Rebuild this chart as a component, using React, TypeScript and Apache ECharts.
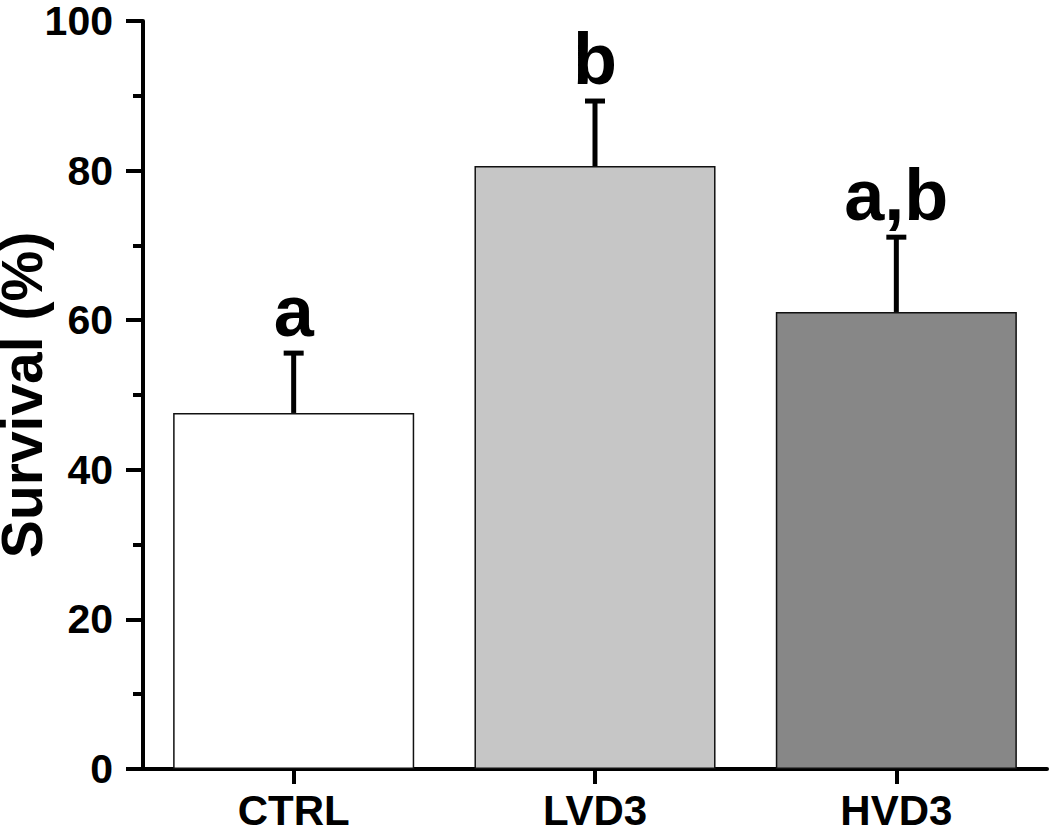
import React, { useEffect, useRef } from "react";
import * as echarts from "echarts";

const categories = ["CTRL", "LVD3", "HVD3"];
const survival = [47.6, 80.6, 61.1];
const errorPlus = [8.0, 8.7, 10.0];
const letters = ["a", "b", "a,b"];
const barColors = ["#ffffff", "#c6c6c6", "#878787"];
const yTicks = { min: 0, max: 100, interval: 20 };

const FONT = '"Liberation Sans", Arial, sans-serif';

export default function App() {
  const ref = useRef<HTMLDivElement>(null);
  useEffect(() => {
    if (!ref.current) return;
    const chart = echarts.init(ref.current, undefined, { renderer: "svg" });
    const errData = categories.map((c, i) => [i, survival[i], errorPlus[i], letters[i]]);
    chart.setOption({
      animation: false,
      backgroundColor: "#ffffff",
      grid: { left: 143, right: 3, top: 21, bottom: 63, containLabel: false, outerBoundsMode: "none" },
      xAxis: {
        type: "category",
        data: categories,
        axisLine: { show: true, lineStyle: { color: "#000", width: 4 } },
        axisTick: { show: true, alignWithLabel: true, length: 15, lineStyle: { color: "#000", width: 4 } },
        axisLabel: { color: "#000", fontFamily: FONT, fontWeight: "bold", fontSize: 42, margin: 20 },
        splitLine: { show: false },
      },
      yAxis: {
        type: "value",
        min: yTicks.min,
        max: yTicks.max,
        interval: yTicks.interval,
        name: "Survival (%)",
        nameLocation: "middle",
        nameGap: 99,
        nameMoveOverlap: false,
        nameTextStyle: { color: "#000", fontFamily: FONT, fontWeight: "bold", fontSize: 57, lineHeight: 44 },
        axisLine: { show: true, lineStyle: { color: "#000", width: 4 } },
        axisTick: { show: true, length: 17, lineStyle: { color: "#000", width: 4 } },
        minorTick: { show: true, splitNumber: 2, length: 10, lineStyle: { color: "#000", width: 4 } },
        axisLabel: { color: "#000", fontFamily: FONT, fontWeight: "bold", fontSize: 41, lineHeight: 36, margin: 30 },
        splitLine: { show: false },
      },
      series: [
        {
          type: "bar",
          barWidth: "80%",
          data: survival.map((v, i) => ({
            value: v,
            itemStyle: { color: barColors[i], borderColor: "#111", borderWidth: 1.5 },
          })),
          z: 2,
        },
        {
          type: "custom",
          z: 3,
          data: errData,
          renderItem: (params: any, api: any) => {
            const idx = api.value(0);
            const mean = api.value(1);
            const err = api.value(2);
            const base = api.coord([idx, mean]);
            const top = api.coord([idx, mean + err]);
            const capHalf = 10;
            const label = letters[params.dataIndex];
            return {
              type: "group",
              children: [
                {
                  type: "line",
                  shape: { x1: base[0], y1: base[1], x2: top[0], y2: top[1] },
                  style: { stroke: "#000", lineWidth: 5 },
                },
                {
                  type: "line",
                  shape: { x1: top[0] - capHalf, y1: top[1], x2: top[0] + capHalf, y2: top[1] },
                  style: { stroke: "#000", lineWidth: 5 },
                },
                {
                  type: "text",
                  x: top[0],
                  y: top[1] - 6,
                  style: {
                    text: label,
                    fill: "#000",
                    font: `bold 72px ${FONT}`,
                    align: "center",
                    verticalAlign: "bottom",
                  },
                },
              ],
            };
          },
        },
      ],
    });
    return () => chart.dispose();
  }, []);
  return (
    <div
      ref={ref}
      style={{ position: "absolute", left: 0, top: 0, width: 1050, height: 832, background: "#fff" }}
    />
  );
}
